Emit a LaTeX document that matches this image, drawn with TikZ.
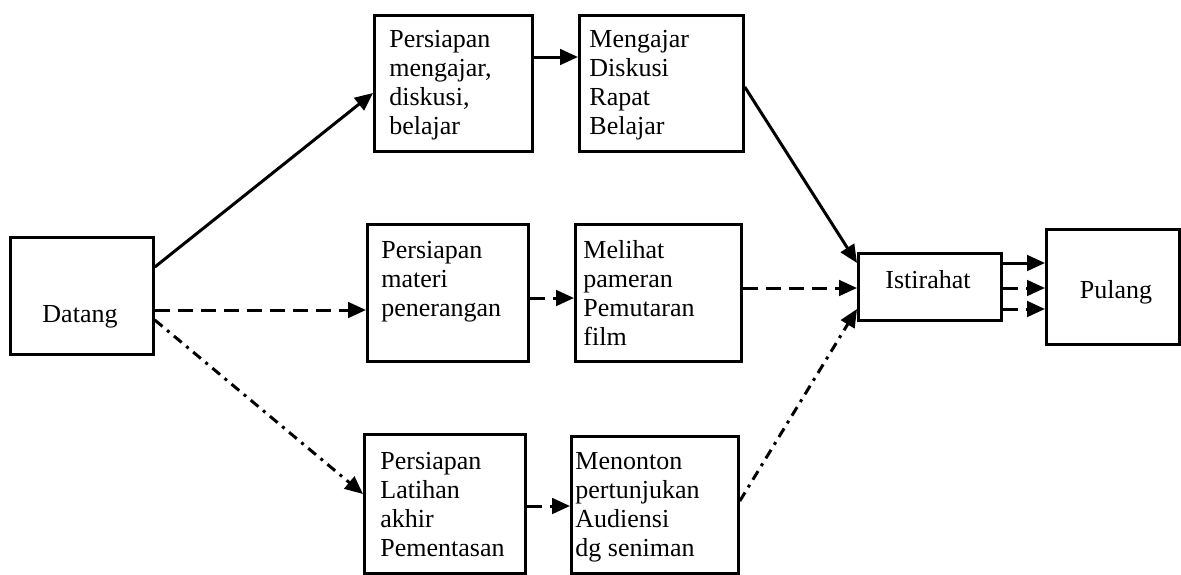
\documentclass[tikz,border=0pt]{standalone}
\usepackage{fontspec}
\setmainfont{Liberation Serif}
\usetikzlibrary{arrows.meta}
\begin{document}
\begin{tikzpicture}[x=0.5pt,y=-0.5pt,
  box/.style={draw, line width=1.4pt, inner sep=0pt, anchor=north west},
  txt/.style={inner sep=0pt, anchor=north west, align=left,
              font=\fontsize{13}{14.5}\selectfont},
  lbl/.style={inner sep=0pt, anchor=base, font=\fontsize{13}{14.5}\selectfont},
  conn/.style={line width=1.5pt, -{Triangle[length=9pt,width=7.8pt]}},
  dsh/.style={conn, dash pattern=on 7.5pt off 4pt},
  dshdot/.style={conn, dash pattern=on 5pt off 3pt on 1.5pt off 3pt}]
\useasboundingbox (0,0) rectangle (1181,574);

% boxes
\node[box, minimum width=71.5pt, minimum height=58.5pt] (datang) at (9,236) {};
\node[box, minimum width=79pt,   minimum height=68pt]   (b1) at (373,14) {};
\node[box, minimum width=82pt,   minimum height=68pt]   (b2) at (578,14) {};
\node[box, minimum width=80.5pt, minimum height=68.5pt] (b3) at (366,223) {};
\node[box, minimum width=83pt,   minimum height=68.5pt] (b4) at (574,223) {};
\node[box, minimum width=80.5pt, minimum height=69.5pt] (b5) at (363,433) {};
\node[box, minimum width=83.5pt, minimum height=68.5pt] (b6) at (570,435) {};
\node[box, minimum width=71.5pt, minimum height=33.5pt] (ist) at (857,252) {};
\node[box, minimum width=66.5pt, minimum height=57.5pt] (pul) at (1045,228) {};

% box texts
\node[lbl] (tdatang) at ([shift={(71,86)}]datang.north west) {Datang};
\node[txt] (t1) at ([shift={(16,12.7)}]b1.north west) {\strut Persiapan\\ mengajar,\\ diskusi,\\ belajar};
\node[txt] (t2) at ([shift={(11,12.7)}]b2.north west) {\strut Mengajar\\ Diskusi\\ Rapat\\ Belajar};
\node[txt] (t3) at ([shift={(15,14.7)}]b3.north west) {\strut Persiapan\\ materi\\ penerangan};
\node[txt] (t4) at ([shift={(9,14.7)}]b4.north west) {\strut Melihat\\ pameran\\ Pemutaran\\ film};
\node[txt] (t5) at ([shift={(17,15.7)}]b5.north west) {\strut Persiapan\\ Latihan\\ akhir\\ Pementasan};
\node[txt] (t6) at ([shift={(5,13.7)}]b6.north west) {\strut Menonton\\ pertunjukan\\ Audiensi\\ dg seniman};
\node[lbl] (tist) at ([shift={(71,36)}]ist.north west) {Istirahat};
\node[lbl] (tpul) at ([shift={(71,70)}]pul.north west) {Pulang};

% connectors
\draw[conn]   ([shift={(0,31)}]datang.north east) -- ([shift={(0,79)}]b1.north west);
\draw[dsh]    ([shift={(0,74)}]datang.north east) -- ([shift={(0,87)}]b3.north west);
\draw[dshdot] ([shift={(0,84)}]datang.north east) -- ([shift={(0,61)}]b5.north west);

\draw[conn]   ([shift={(0,43)}]b1.north east) -- ([shift={(0,43)}]b2.north west);
\draw[dsh]    ([shift={(0,75)}]b3.north east) -- ([shift={(0,75)}]b4.north west);
\draw[dsh]    ([shift={(0,73)}]b5.north east) -- ([shift={(0,71)}]b6.north west);

\draw[conn]   ([shift={(0,73)}]b2.north east) -- ([shift={(0,11)}]ist.north west);
\draw[dsh]    ([shift={(0,65)}]b4.north east) -- ([shift={(0,36)}]ist.north west);
\draw[dshdot] ([shift={(0,66)}]b6.north east) -- ([shift={(0,57)}]ist.north west);

\draw[conn]   ([shift={(0,11)}]ist.north east) -- ([shift={(0,35)}]pul.north west);
\draw[dsh]    ([shift={(0,36)}]ist.north east) -- ([shift={(0,60)}]pul.north west);
\draw[dsh]    ([shift={(0,57)}]ist.north east) -- ([shift={(0,81)}]pul.north west);
\end{tikzpicture}
\end{document}
